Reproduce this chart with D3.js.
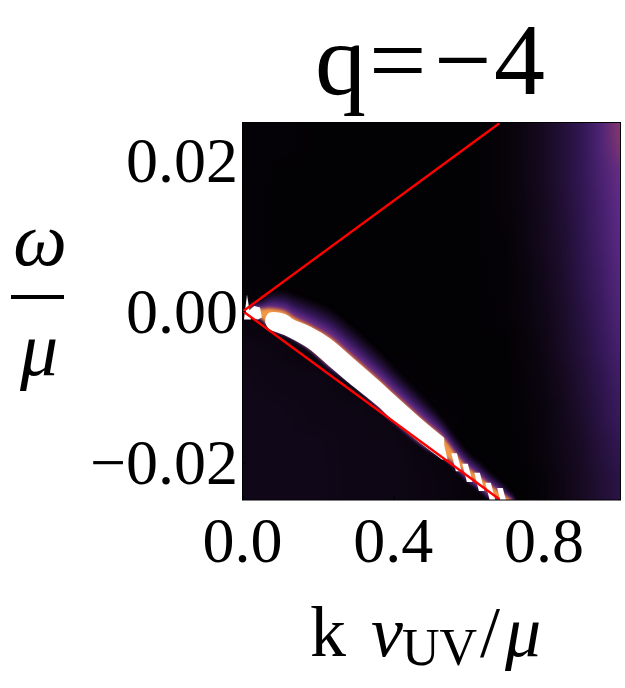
<!DOCTYPE html>
<html><head><meta charset="utf-8">
<script src="https://cdnjs.cloudflare.com/ajax/libs/d3/7.9.0/d3.min.js"></script>
<style>html,body{margin:0;background:#fff}svg{display:block}text{font-family:"Liberation Serif",serif;fill:#000}</style>
</head><body><div id="chart"></div>
<script>
// --- data ---
const xTicks = [0, 0.4, 0.8];
const yTicks = [-0.02, 0, 0.02];
// smooth background intensity, rows top to bottom, columns k = 0 .. 1
const backgroundK = [0,0.1,0.2,0.3,0.4,0.5,0.6,0.7,0.75,0.8,0.85,0.9,0.95,1];
const backgroundRows = [
 [.02,.02,.01,.01,.01,.01,.01,.03,.06,.10,.16,.24,.36,.52],
 [.02,.01,.01,.01,.01,.01,.01,.03,.06,.10,.16,.24,.34,.44],
 [.02,.01,.01,.01,.01,.01,.01,.03,.05,.09,.15,.23,.32,.42],
 [.02,.01,.01,.01,.01,.01,.01,.02,.05,.09,.14,.22,.31,.40],
 [.02,.01,.01,.01,.01,.01,.01,.02,.04,.08,.13,.21,.29,.38],
 [.03,.02,.01,.01,.01,.01,.01,.02,.04,.07,.12,.19,.27,.36],
 [.06,.05,.03,.01,.01,.01,.01,.01,.03,.06,.11,.17,.25,.33],
 [.07,.06,.06,.04,.02,.01,.01,.01,.03,.05,.09,.15,.22,.30],
 [.07,.07,.06,.06,.05,.02,.01,.01,.02,.04,.08,.13,.20,.27],
 [.07,.07,.07,.06,.06,.04,.01,.01,.02,.04,.07,.11,.17,.23],
 [.07,.07,.07,.06,.06,.05,.03,.01,.01,.03,.06,.10,.15,.20]
];
// white ridge body, read along k
const ridgeK      = [0.0635,0.0714,0.1111,0.1323,0.1772,0.2302,0.2831,0.3624,0.3968,0.4868,0.5291];
const ridgeTop    = [-0.00106,-0.00040,-0.00060,-0.00130,-0.00226,-0.00385,-0.00611,-0.00957,-0.01116,-0.01515,-0.01688];
const ridgeBottom = [-0.00146,-0.00213,-0.00292,-0.00346,-0.00478,-0.00704,-0.00930,-0.01249,-0.01409,-0.01781,-0.01940];
// envelope the halo grows from, read along k
const envK    = [0.0185,0.0503,0.0714,0.1111,0.1323,0.1772,0.2302,0.2831,0.3624,0.3968,0.4868,0.5291,0.5661,0.5952,0.6270,0.6561,0.6878,0.7196];
const envTop  = [0.00027,0.00013,0.00013,-0.00030,-0.00106,-0.00226,-0.00385,-0.00611,-0.00957,-0.01116,-0.01515,-0.01688,-0.01930,-0.02090,-0.02210,-0.02330,-0.02430,-0.02540];
const envBot  = [-0.00027,-0.00093,-0.00199,-0.00279,-0.00332,-0.00478,-0.00704,-0.00890,-0.01249,-0.01409,-0.01781,-0.01900,-0.02010,-0.02150,-0.02270,-0.02390,-0.02490,-0.02600];
const haloUp  = [0.0010,0.0016,0.0024,0.0030,0.0034,0.0038,0.0042,0.0044,0.0042,0.0040,0.0034,0.0027,0.0026,0.0024,0.0022,0.0020,0.0016,0.0010];
const haloDown= [0.0003,0.0004,0.0005,0.0005,0.0005,0.0005,0.0006,0.0006,0.0006,0.0006,0.0005,0.0004,0.0010,0.0010,0.0010,0.0010,0.0008,0.0006];
const haloLevels = [0.04,0.07,0.10,0.14,0.18,0.22,0.27,0.32,0.38,0.45,0.55,0.65,0.78];
const haloReach  = [1.0,0.92,0.84,0.76,0.68,0.60,0.52,0.44,0.36,0.26,0.17,0.12,0.08];
// separated bright blobs at the lower end of the ridge
const blobK = [0.5291,0.5661,0.5952,0.6270,0.6561,0.6878];
const blobW = [-0.0184,-0.0200,-0.0214,-0.0226,-0.0239,-0.0246];
// bright spot at the origin
const tipK = [0.0026,0.0106,0.0212,0.0026];
const tipW = [-0.0011,0.0022,-0.0011,-0.0011];
const spotK = [0.012,0.03,0.045,0.050,0.04,0.02];
const spotW = [-0.0001,0.0007,0.0005,-0.0008,-0.0011,-0.0009];
// reference lines
const lineK = [0,0.68];
const upperLineW = [0,0.0249];
const lowerLineW = [0,-0.0249];
// colour map stops
const colourDomain = [0,0.1,0.25,0.42,0.55,0.72,0.85,1];
const colourRange = ["#000000","#170a22","#341858","#5e2a88","#8c3a66","#e8761e","#fbc070","#ffffff"];

const W=625,H=688,L=242,R=620,T=122,B=500;
const x=d3.scaleLinear().domain([0,1]).range([L+1,R]);
const y=d3.scaleLinear().domain([-0.025,0.025]).range([B,T+0.5]);
const colour=d3.scaleLinear().domain(colourDomain).range(colourRange).clamp(true);

const svg=d3.select("#chart").append("svg").attr("width",W).attr("height",H);
const defs=svg.append("defs");
defs.append("clipPath").attr("id","plot").append("rect").attr("x",L).attr("y",T).attr("width",R-L).attr("height",B-T);
const mkBlur=(id,sd)=>defs.append("filter").attr("id",id).attr("filterUnits","userSpaceOnUse")
  .attr("x",0).attr("y",0).attr("width",W).attr("height",H).attr("color-interpolation-filters","sRGB")
  .append("feGaussianBlur").attr("stdDeviation",sd);
mkBlur("soft",1.8); mkBlur("soft2",0.7); mkBlur("rows","0 11");

const plot=svg.append("g").attr("clip-path","url(#plot)");
plot.append("rect").attr("x",L).attr("y",T).attr("width",R-L).attr("height",B-T).attr("fill","#000");

// background: one horizontal gradient per matrix row, blurred vertically
const rowScale=d3.scaleLinear().domain([0,backgroundRows.length]).range([T,B]);
const bg=plot.append("g").attr("filter","url(#rows)");
backgroundRows.forEach((row,i)=>{
  const id="row"+i;
  const g=defs.append("linearGradient").attr("id",id).attr("gradientUnits","userSpaceOnUse")
    .attr("x1",x(0)).attr("x2",x(1)).attr("y1",0).attr("y2",0);
  backgroundK.forEach((k,j)=>g.append("stop").attr("offset",k).attr("stop-color",colour(row[j])));
  const first=i===0, last=i===backgroundRows.length-1;
  const y0=first?T-40:rowScale(i), y1=last?B+40:rowScale(i+1)+1;
  bg.append("rect").attr("x",L-5).attr("width",R-L+10).attr("y",y0).attr("height",y1-y0).attr("fill","url(#"+id+")");
});

// halo bands
const halo=plot.append("g").attr("filter","url(#soft)");
haloLevels.forEach((lv,n)=>{
  const reach=haloReach[n];
  const area=d3.area().x((d,i)=>x(envK[i]))
    .y0((d,i)=>y(envTop[i]+haloUp[i]*reach))
    .y1((d,i)=>y(envBot[i]-haloDown[i]*Math.min(1,reach*2)))
    .curve(d3.curveCatmullRom);
  halo.append("path").datum(envK).attr("d",area).attr("fill",colour(lv));
});
const poly=(ks,ws)=>d3.line().x((d,i)=>x(ks[i])).y((d,i)=>y(ws[i]))(ks)+"Z";
const blobShape=(k,w,dk,dw)=>poly([k-dk,k+dk*0.1,k+dk,k-dk*0.1],[w+dw,w+dw,w-dw,w-dw]);
// ridge white body
const ridgeArea=d3.area().x((d,i)=>x(ridgeK[i])).y0((d,i)=>y(ridgeTop[i])).y1((d,i)=>y(ridgeBottom[i])).curve(d3.curveCatmullRom);
plot.append("path").datum(ridgeK).attr("d",ridgeArea).attr("fill","#fff").attr("stroke","#fff").attr("stroke-width",3.5).attr("stroke-linejoin","round").attr("filter","url(#soft2)");
plot.append("g").selectAll("path").data(blobK).join("path")
  .attr("d",(k,i)=>blobShape(k,blobW[i],0.0135,0.0012))
  .attr("fill","#fff");
// origin spot
plot.append("path").attr("d",poly(spotK,spotW)).attr("fill","#fff").attr("filter","url(#soft2)");
plot.append("path").attr("d",poly(tipK,tipW)).attr("fill","#fff");
// lines
[upperLineW,lowerLineW].forEach(ws=>{
  plot.append("path").datum(lineK)
    .attr("d",d3.line().x((d,i)=>x(lineK[i])).y((d,i)=>y(ws[i])))
    .attr("fill","none").attr("stroke","#f00").attr("stroke-width",2.4);
});
// frame
svg.append("rect").attr("x",L+0.5).attr("y",T+0.5).attr("width",R-L).attr("height",B-T-0.5)
  .attr("fill","none").attr("stroke","#000").attr("stroke-width",1);

// axes
const xAxis=d3.axisBottom(x).tickValues(xTicks).tickFormat(d3.format(".1f")).tickSize(-4);
const gx=svg.append("g").attr("transform","translate(0,"+B+")").call(xAxis);
gx.select(".domain").remove();
gx.selectAll("text").attr("y",62).attr("dy",0).attr("dx",-1).style("font-size","64px").style("font-family","Liberation Serif");
const fmtY=d=>(d<0?"\u2212":"")+d3.format(".2f")(Math.abs(d));
const yAxis=d3.axisLeft(y).tickValues(yTicks).tickFormat(fmtY).tickSize(-4);
const gy=svg.append("g").attr("transform","translate("+L+",0)").call(yAxis);
gy.select(".domain").remove();
gy.selectAll("text").attr("x",-4).attr("dy",21).style("font-size","64px").style("font-family","Liberation Serif");

// title
const title=svg.append("text").attr("y",94).style("font-size","102px");
title.append("tspan").attr("x",315).text("q");
title.append("tspan").attr("x",369).text("=");
title.append("tspan").attr("x",434).text("\u2212");
title.append("tspan").attr("x",494).text("4");

// x label
const xl=svg.append("text").attr("y",656).style("font-size","72px");
xl.append("tspan").attr("x",310).text("k");
xl.append("tspan").attr("x",371).style("font-style","italic").text("v");
xl.append("tspan").attr("x",402).attr("dy",9).style("font-size","52px").text("UV");
xl.append("tspan").attr("x",480).attr("dy",-9).text("/");
xl.append("tspan").attr("x",505).style("font-style","italic").text("\u03bc");

// y label
svg.append("text").attr("x",40).attr("y",265).attr("text-anchor","middle").style("font-size","76px").style("font-style","italic").text("\u03c9");
svg.append("text").attr("x",39).attr("y",375).attr("text-anchor","middle").style("font-size","76px").style("font-style","italic").text("\u03bc");
svg.append("rect").attr("x",11).attr("y",295).attr("width",53).attr("height",4).attr("fill","#000");
</script></body></html>
